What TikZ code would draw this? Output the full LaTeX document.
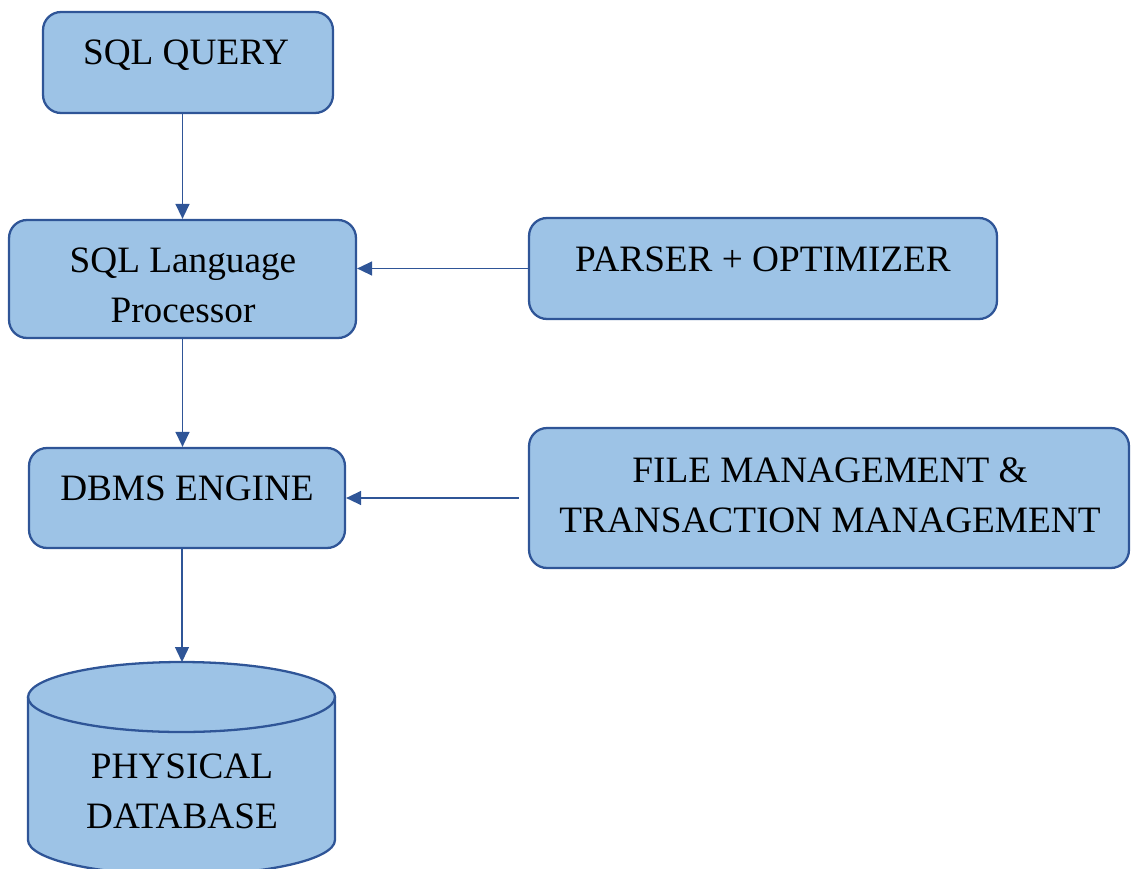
\documentclass[tikz,border=0pt]{standalone}
\usepackage{fontspec}
\setmainfont{Liberation Serif}
\usetikzlibrary{arrows.meta}
\definecolor{boxfill}{HTML}{9DC3E6}
\definecolor{boxline}{HTML}{2F5597}

\begin{document}
\begin{tikzpicture}[x=0.02cm, y=-0.02cm,
		blk/.style={draw=boxline, line width=1.3pt, fill=boxfill, rounded corners=0.36cm, inner sep=0pt},
		lbl/.style={inner sep=0pt, anchor=base, align=center, font=\fontsize{21.2}{27.9}\selectfont},
		arr/.style={draw=boxline, line width=0.8pt, -{Triangle[length=0.3cm,width=0.28cm]}}]
		%%%%% START %%%%%
		\useasboundingbox (0,0) rectangle (1131,868);
		\clip (0,0) rectangle (1131,868);
		
		\node[blk, minimum width=5.8cm, minimum height=2.02cm] (query) at (188,62.5) {};
		\node[lbl] (query-t) at (186,65) {SQL QUERY};
		
		\node[blk, minimum width=6.94cm, minimum height=2.36cm] (lang) at (182.5,279) {};
		\node[lbl] (lang-t) at (183,322) {SQL Language\\Processor};
		
		\node[blk, minimum width=9.36cm, minimum height=2.02cm] (parser) at (763,268.5) {};
		\node[lbl] (parser-t) at (763,271) {PARSER + OPTIMIZER};
		
		\node[blk, minimum width=6.32cm, minimum height=2cm] (dbms) at (187,498) {};
		\node[lbl] (dbms-t) at (187,500) {DBMS ENGINE};
		
		\node[blk, minimum width=12cm, minimum height=2.8cm] (file) at (829,498) {};
		\node[lbl] (file-t) at (830,532) {FILE MANAGEMENT \&\\TRANSACTION MANAGEMENT};
		
		% database cylinder
		\path[blk, sharp corners] (28,697) -- (28,840) arc[start angle=180, end angle=360, x radius=3.07cm, y radius=0.7cm]
			-- (335,697) arc[start angle=0, end angle=180, x radius=3.07cm, y radius=0.7cm] -- cycle;
		\draw[boxline, line width=1.3pt] (28,697) arc[start angle=180, end angle=360, x radius=3.07cm, y radius=0.7cm];
		\coordinate (db-top) at (182,662);
		\node[lbl] (db-t) at (182,828) {PHYSICAL\\DATABASE};
		
		% arrows
		\draw[arr] (lang.north |- query.south) -- (lang.north);
		\draw[arr] (parser.west) -- (parser.west -| lang.east);
		\draw[arr] (lang.south) -- (lang.south |- dbms.north);
		\draw[arr] ([xshift=-0.18cm]file.west) -- (file.west -| dbms.east);
		\draw[arr] (dbms.south -| db-top) -- (db-top);
		
		%%%%% END %%%%%
\end{tikzpicture}
\end{document}
